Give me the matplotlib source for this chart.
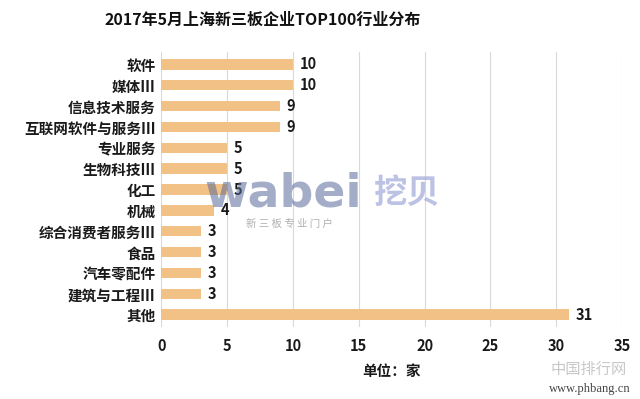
import matplotlib.pyplot as plt

plt.rcParams['font.family'] = ['Noto Sans CJK SC', 'DejaVu Sans']

categories = ['软件', '媒体Ⅲ', '信息技术服务', '互联网软件与服务Ⅲ', '专业服务', '生物科技Ⅲ',
              '化工', '机械', '综合消费者服务Ⅲ', '食品', '汽车零配件', '建筑与工程Ⅲ', '其他']
values = [10, 10, 9, 9, 5, 5, 5, 4, 3, 3, 3, 3, 31]
xticks = [0, 5, 10, 15, 20, 25, 30, 35]

fig = plt.figure(figsize=(6.4, 3.99), dpi=100)
ax = fig.add_axes([0.252, 0.18, 0.72, 0.69])

pos = list(range(len(categories)))[::-1]
ax.barh(pos, values, height=0.5, color='#F2C185', zorder=2)
for p, v in zip(pos, values):
    ax.text(v + 0.5, p, str(v), va='center', ha='left', fontsize=10.5,
            fontweight='bold', color='#1a1a1a', zorder=4)

ax.set_yticks(pos)
ax.set_yticklabels(categories, fontsize=10.5, fontweight='bold', color='#1a1a1a')
ax.set_xticks(xticks)
ax.set_xticklabels([str(t) for t in xticks], fontsize=10.5, fontweight='bold', color='#1a1a1a')
ax.set_xlim(0, 35)
ax.set_ylim(-0.6, len(categories) - 0.4)
ax.grid(axis='x', color='#D9D9D9', linewidth=0.8, zorder=0)
for s in ax.spines.values():
    s.set_visible(False)
ax.tick_params(axis='both', length=0, pad=4)
ax.tick_params(axis='x', pad=8)
ax.set_xlabel('单位：家', fontsize=10.5, fontweight='bold', color='#1a1a1a', labelpad=6)

fig.text(0.41, 0.95, '2017年5月上海新三板企业TOP100行业分布', ha='center', va='center',
         fontsize=11.5, fontweight='bold', color='#111111')

# watermark
fig.text(0.32, 0.515, 'wabei', fontsize=34, fontweight='bold', color='#5A6A9A',
         alpha=0.55, ha='left', va='center', family='DejaVu Sans', zorder=5)
fig.text(0.585, 0.515, '挖贝', fontsize=24, fontweight='bold', color='#A0A8D8',
         alpha=0.7, ha='left', va='center', zorder=5)
fig.text(0.385, 0.44, '新 三 板 专 业 门 户', fontsize=7.5, color='#B0B0B0',
         ha='left', va='center', zorder=5)

fig.text(0.98, 0.075, '中国排行网', fontsize=11, color='#C8C8C8', ha='right', va='center')
fig.text(0.985, 0.025, 'www.phbang.cn', fontsize=9, color='#444444', ha='right',
         va='center', family='Liberation Serif')

fig.savefig('out.png', dpi=100)
